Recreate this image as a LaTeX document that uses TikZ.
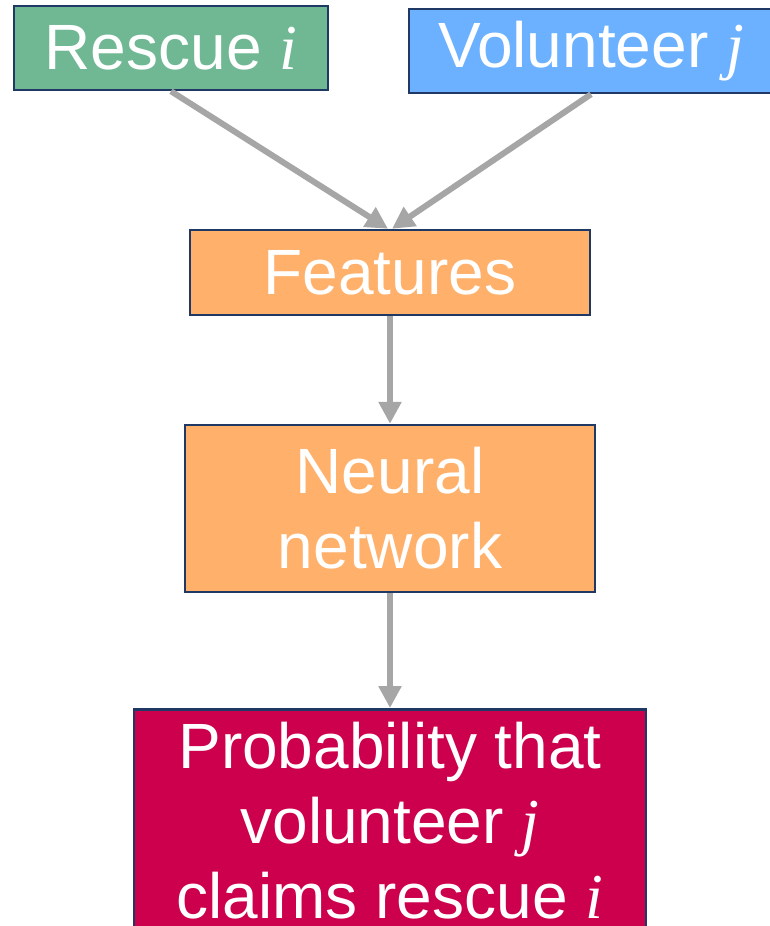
\documentclass[tikz,border=0pt]{standalone}
\usepackage{fontspec}
\setmainfont{Liberation Sans}
\newfontfamily\varfont{Liberation Serif}
\usetikzlibrary{arrows.meta}
\definecolor{rescuegreen}{HTML}{70B893}
\definecolor{volblue}{HTML}{6BB1FF}
\definecolor{featorange}{HTML}{FFB06B}
\definecolor{probred}{HTML}{CC004C}
\definecolor{edgenavy}{HTML}{1F3864}
\definecolor{linkgray}{HTML}{A6A6A6}
\newcommand\var[1]{{\varfont\itshape #1}}
\begin{document}
\begin{tikzpicture}[x=1pt,y=-1pt,
  box/.style={draw=edgenavy, line width=2.5pt, text=white,
    font=\fontsize{64}{75}\selectfont, align=center, inner sep=0pt},
  link/.style={draw=linkgray, line width=6pt,
    -{Triangle[length=22pt,width=22pt]}}]
\useasboundingbox (0,0) rectangle (769,926);
% input boxes
\node[box, fill=rescuegreen, minimum width=314, minimum height=84]
  (rescue) at (171,48) {\raisebox{-2pt}{Rescue \var{i}}};
\node[box, fill=volblue, minimum width=364, minimum height=84]
  (volunteer) at (591,51) {Volunteer \var{j}};
% pipeline
\node[box, fill=featorange, minimum width=400, minimum height=85]
  (features) at (390,272.5) {Features};
\node[box, fill=featorange, minimum width=410, minimum height=167]
  (neural) at (390,508.5) {Neural\\network};
\node[box, fill=probred, minimum width=512, minimum height=222, anchor=north]
  (prob) at (390,708) {Probability that\\volunteer \var{j}\\claims rescue \var{i}};
% connectors
\draw[link] (rescue.south) -- ([xshift=-2pt]features.north);
\draw[link] (volunteer.south) -- ([xshift=2pt]features.north);
\draw[link] (features) -- (neural);
\draw[link] (neural) -- (prob);
\end{tikzpicture}
\end{document}
